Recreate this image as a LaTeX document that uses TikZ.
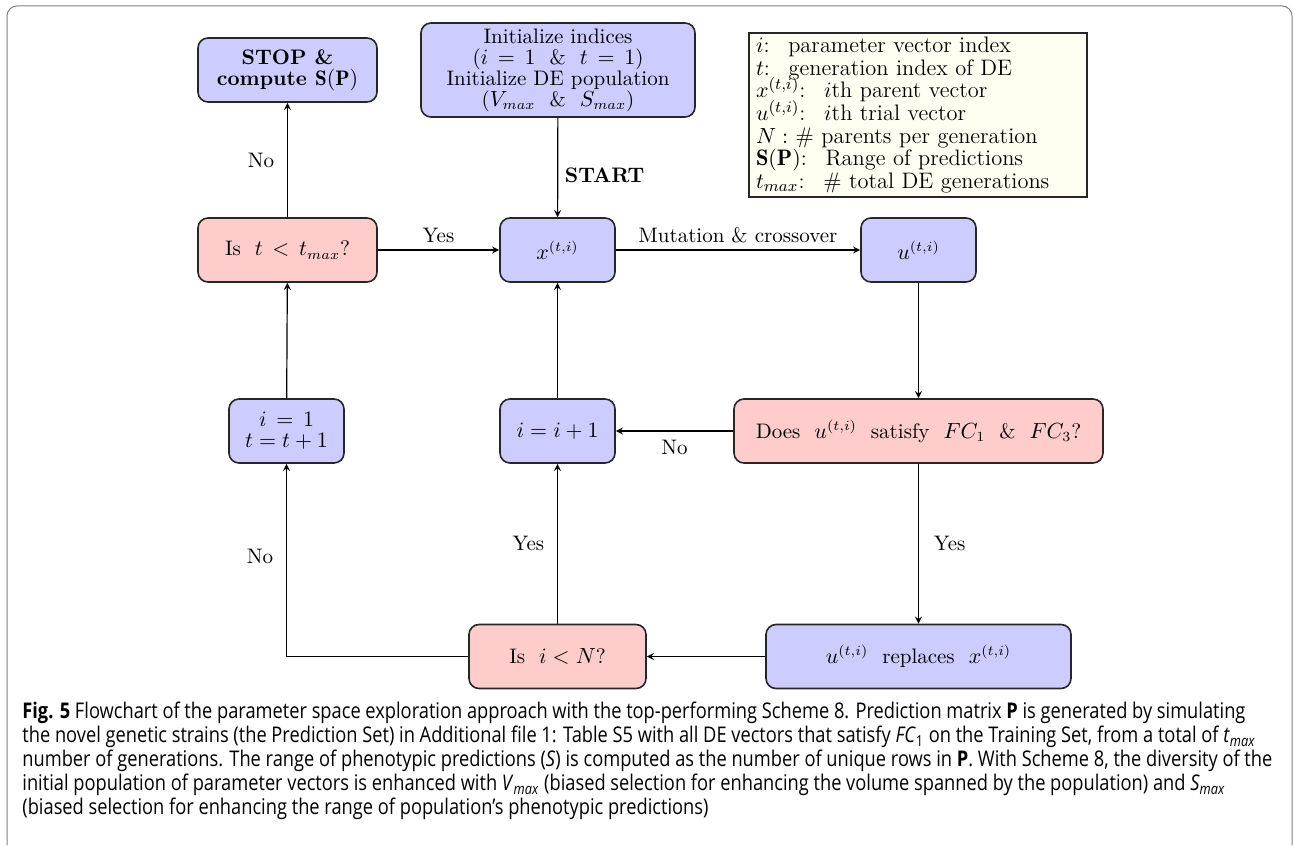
\documentclass[tikz,border=0pt]{standalone}
\usepackage{fontspec}
\newfontfamily\capfont[FakeStretch = .845]{Open Sans}
\newcommand\legendfont{\fontsize{11.2}{11.3}\selectfont\lineskiplimit -20pt\relax}
\begin{document}
\begin{tikzpicture}[x = .5pt, y = -.5pt, >= stealth,
    every node/.style = {font = \fontsize{10.5}{10.5}\selectfont},
    box/.style = {draw = black!85, line width = .8pt, rounded corners = 5pt,
      align = center, minimum height = 32pt, inner sep = 2pt},
    bluebox/.style = {box, fill = blue!20},
    redbox/.style = {box, fill = red!20},
    link/.style = {->, line width = .6pt}]
  \useasboundingbox (0,0) rectangle (1294,845);
  \draw [black!50, line width = .5pt, rounded corners = 5pt]
    (7,845) -- (7,6) -- (1292,6) -- (1292,845);
  % top row
  \node [bluebox, minimum width = 89.5pt] (stop) at (287.5,70)
    {\textbf{STOP \&}\\ \textbf{compute $\mathbf{S(P)}$}};
  \node [bluebox, minimum width = 137pt, minimum height = 47pt] (init) at (558,70)
    {Initialize indices\\ ($i\,=\,1$ \ \& \ $t\,=\,1$)\\
     Initialize DE population\\ ($V_{max}$ \ \& \ $S_{max}$)};
  \node [draw = black!85, line width = .8pt, fill = yellow!6, align = left,
    minimum width = 169pt, minimum height = 81pt, text width = 162pt,
    inner sep = 2pt, font = \legendfont] (legend) at (918,115)
    {$i$: \ parameter vector index\\
     $t$: \ generation index of DE\\
     $x^{(t,i)}$: \ $i$th parent vector\\
     $u^{(t,i)}$: \ $i$th trial vector\\
     $N:$ \# parents per generation\\
     $\mathbf{S(P)}$: \ Range of predictions\\
     $t_{max}$: \ \# total DE generations};
  % second row
  \node [redbox, minimum width = 89.5pt] (tcheck) at (287.5,250) {Is \ $t \, < \, t_{max}$?};
  \node [bluebox, minimum width = 57.5pt] (xvec) at (557.5,250) {$x^{(t,i)}$};
  \node [bluebox, minimum width = 57.5pt] (uvec) at (918.5,250) {$u^{(t,i)}$};
  % third row
  \node [bluebox, minimum width = 57.5pt] (nextgen) at (286.5,431) {$i\,=\,1$\\ $t = t + 1$};
  \node [bluebox, minimum width = 57.5pt] (nexti) at (557.5,431) {$i = i + 1$};
  \node [redbox, minimum width = 184.5pt] (fccheck) at (918.5,431)
    {Does \ $u^{(t,i)}$ \ satisfy \ $FC_1$ \ \& \ $FC_3$?};
  % bottom row
  \node [redbox, minimum width = 88.5pt] (icheck) at (557.5,656.5) {Is \ $i < N$?};
  \node [bluebox, minimum width = 152.5pt] (replace) at (918.5,656.5)
    {$u^{(t,i)}$ \ replaces \ $x^{(t,i)}$};
  % links
  \draw [link] (init) -- (xvec) node [pos = .58, right] (lstart) {\textbf{START}};
  \draw [link] (tcheck) -- (stop) node [midway, left, xshift = -3pt] (lno1) {No};
  \draw [link] (tcheck) -- (xvec) node [midway, above] (lyes1) {Yes};
  \draw [link] (xvec) -- (uvec) node [midway, above] (lmut) {Mutation \& crossover};
  \draw [link] (uvec) -- (fccheck);
  \draw [link] (fccheck) -- (nexti) node [midway, below, yshift = -1pt] (lno2) {No};
  \draw [link] (fccheck) -- (replace) node [midway, right, xshift = 4pt] (lyes2) {Yes};
  \draw [link] (replace) -- (icheck);
  \draw [link] (icheck) -- (nexti) node [midway, left, xshift = -3pt] (lyes3) {Yes};
  \draw [link] (icheck) -| (nextgen) node [pos = .76, left, xshift = -3pt] (lno3) {No};
  \draw [link] (nexti) -- (xvec);
  \draw [link] (nextgen) -- (tcheck);
  % caption
  \node [anchor = north west, align = left, inner sep = 0pt,
    font = \capfont\fontsize{10.8}{12}\selectfont] (caption) at (22,702)
    {\textbf{Fig. 5} Flowchart of the parameter space exploration approach with the top-performing Scheme 8. Prediction matrix \textbf{P} is generated by simulating\\
     the novel genetic strains (the Prediction Set) in Additional file 1: Table S5 with all DE vectors that satisfy \textit{FC}\textsubscript{1} on the Training Set, from a total of \textit{t}\textsubscript{\textit{max}}\\
     number of generations. The range of phenotypic predictions (\textit{S}) is computed as the number of unique rows in \textbf{P}. With Scheme 8, the diversity of the\\
     initial population of parameter vectors is enhanced with \textit{V}\textsubscript{\textit{max}} (biased selection for enhancing the volume spanned by the population) and \textit{S}\textsubscript{\textit{max}}\\
     (biased selection for enhancing the range of population’s phenotypic predictions)};
\end{tikzpicture}
\end{document}
